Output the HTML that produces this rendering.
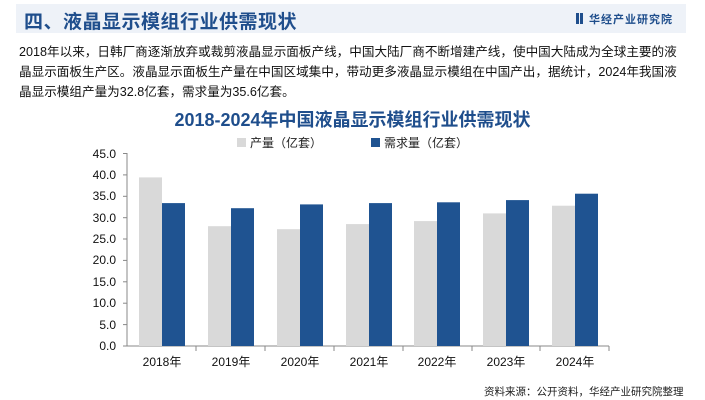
<!DOCTYPE html>
<html><head><meta charset="utf-8"><style>
body{margin:0;width:705px;height:400px;background:#fff;overflow:hidden;font-family:"Liberation Sans","Noto Sans CJK SC",sans-serif;position:relative}
.ban{position:absolute;left:16px;top:4px;width:670px;height:29px;background:#eef2f8}
.t{position:absolute;left:24px;top:7px;font-size:19px;font-weight:bold;color:#1f4e8c;letter-spacing:0.5px}
.logo{position:absolute;left:576px;top:11px;font-size:11px;font-weight:bold;color:#1f4e8c;letter-spacing:1px}
.p{position:absolute;left:19px;top:42px;width:662px;font-size:12.6px;line-height:20px;color:#111}
.ct{position:absolute;left:0;width:705px;text-align:center;top:106px;font-size:18px;font-weight:bold;color:#1f4e8c}
.src{position:absolute;left:484px;top:384px;font-size:10.5px;color:#222}
</style></head><body>
<div class="ban"></div>
<div class="t">四、液晶显示模组行业供需现状</div>
<div class="logo"><span style="display:inline-block;width:3px;height:11px;background:#1f4e8c;margin-right:1px;vertical-align:-1px"></span><span style="display:inline-block;width:3px;height:11px;background:#1f4e8c;margin-right:6px;vertical-align:-1px"></span>华经产业研究院</div>
<div class="p">2018年以来，日韩厂商逐渐放弃或裁剪液晶显示面板产线，中国大陆厂商不断增建产线，使中国大陆成为全球主要的液晶显示面板生产区。液晶显示面板生产量在中国区域集中，带动更多液晶显示模组在中国产出，据统计，2024年我国液晶显示模组产量为32.8亿套，需求量为35.6亿套。</div>
<div class="ct">2018-2024年中国液晶显示模组行业供需现状</div>
<svg width="705" height="400" style="position:absolute;left:0;top:0" font-family="Liberation Sans, Noto Sans CJK SC, sans-serif">
<rect x="237" y="138" width="9" height="9" fill="#d9d9d9"/>
<text x="250" y="147" font-size="12" fill="#222">产量（亿套）</text>
<rect x="371" y="138" width="9" height="9" fill="#1f5391"/>
<text x="384" y="147" font-size="12" fill="#222">需求量（亿套）</text>
<line x1="127" y1="153" x2="127" y2="346" stroke="#888"/>
<line x1="127" y1="346" x2="609" y2="346" stroke="#888"/>
<g font-size="12" fill="#111" text-anchor="end">
<text x="116" y="350">0.0</text><text x="116" y="329">5.0</text><text x="116" y="307">10.0</text><text x="116" y="286">15.0</text><text x="116" y="264">20.0</text><text x="116" y="243">25.0</text><text x="116" y="222">30.0</text><text x="116" y="200">35.0</text><text x="116" y="179">40.0</text><text x="116" y="158">45.0</text>
</g>
<g stroke="#888">
<line x1="123" y1="346" x2="127" y2="346"/><line x1="123" y1="324.6" x2="127" y2="324.6"/><line x1="123" y1="303.2" x2="127" y2="303.2"/><line x1="123" y1="281.8" x2="127" y2="281.8"/><line x1="123" y1="260.4" x2="127" y2="260.4"/><line x1="123" y1="239" x2="127" y2="239"/><line x1="123" y1="217.7" x2="127" y2="217.7"/><line x1="123" y1="196.3" x2="127" y2="196.3"/><line x1="123" y1="174.9" x2="127" y2="174.9"/><line x1="123" y1="153.5" x2="127" y2="153.5"/>
<line x1="196" y1="346" x2="196" y2="351"/><line x1="265" y1="346" x2="265" y2="351"/><line x1="334" y1="346" x2="334" y2="351"/><line x1="403" y1="346" x2="403" y2="351"/><line x1="472" y1="346" x2="472" y2="351"/><line x1="540" y1="346" x2="540" y2="351"/><line x1="609" y1="346" x2="609" y2="351"/>
</g>
<g fill="#d9d9d9">
<rect x="139" y="177.4" width="23" height="168.6"/>
<rect x="208" y="226.2" width="23" height="119.8"/>
<rect x="277" y="229.2" width="23" height="116.8"/>
<rect x="346" y="224.1" width="23" height="121.9"/>
<rect x="414" y="221.1" width="23" height="124.9"/>
<rect x="483" y="213.4" width="23" height="132.6"/>
<rect x="552" y="205.7" width="23" height="140.3"/>
</g>
<g fill="#1f5391">
<rect x="162" y="203.1" width="23" height="142.9"/>
<rect x="231" y="208.2" width="23" height="137.8"/>
<rect x="300" y="204.4" width="23" height="141.6"/>
<rect x="369" y="203.1" width="23" height="142.9"/>
<rect x="437" y="202.3" width="23" height="143.7"/>
<rect x="506" y="200.1" width="23" height="145.9"/>
<rect x="575" y="193.7" width="23" height="152.3"/>
</g>
<g font-size="12" fill="#111" text-anchor="middle">
<text x="162" y="366">2018年</text><text x="231" y="366">2019年</text><text x="300" y="366">2020年</text><text x="369" y="366">2021年</text><text x="437" y="366">2022年</text><text x="506" y="366">2023年</text><text x="575" y="366">2024年</text>
</g>
</svg>
<div class="src">资料来源：公开资料，华经产业研究院整理</div>
</body></html>
